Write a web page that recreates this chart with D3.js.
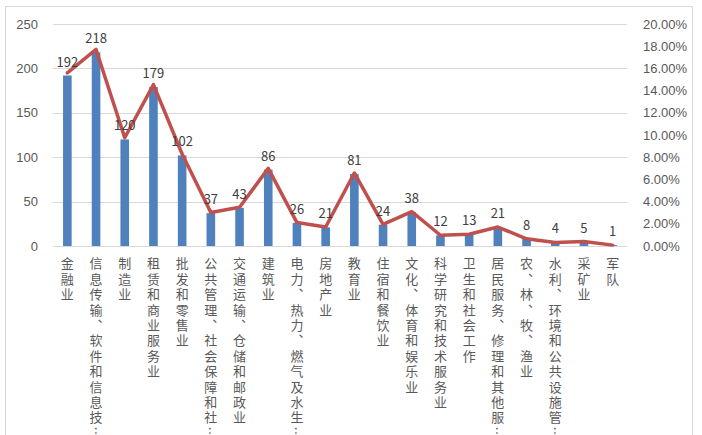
<!DOCTYPE html>
<html>
<head>
<meta charset="utf-8">
<script src="https://cdn.jsdelivr.net/npm/d3@7"></script>
<style>
  html, body { margin: 0; padding: 0; background: #fff; }
  svg { display: block; font-family: "Noto Sans CJK SC", "Noto Sans", sans-serif; }
</style>
</head>
<body>
<div id="chart"></div>
<script>
const categories = [
  "金融业", "信息传输、软件和信息技…", "制造业", "租赁和商业服务业", "批发和零售业",
  "公共管理、社会保障和社…", "交通运输、仓储和邮政业", "建筑业", "电力、热力、燃气及水生…", "房地产业",
  "教育业", "住宿和餐饮业", "文化、体育和娱乐业", "科学研究和技术服务业", "卫生和社会工作",
  "居民服务、修理和其他服…", "农、林、牧、渔业", "水利、环境和公共设施管…", "采矿业", "军队"
];
const counts = [192, 218, 120, 179, 102, 37, 43, 86, 26, 21, 81, 24, 38, 12, 13, 21, 8, 4, 5, 1];
const shares = [15.60, 17.71, 9.75, 14.54, 8.29, 3.01, 3.49, 6.99, 2.11, 1.71,
                6.58, 1.95, 3.09, 0.97, 1.06, 1.71, 0.65, 0.32, 0.41, 0.08];
const leftTicks = [0, 50, 100, 150, 200, 250];
const rightTicks = [0, 2, 4, 6, 8, 10, 12, 14, 16, 18, 20];

(function () {
  const width = 702, height = 435;
  const margin = { top: 24, right: 75, bottom: 189, left: 53 };
  const innerWidth = width - margin.left - margin.right;
  const innerHeight = height - margin.top - margin.bottom;

  const svg = d3.select("#chart")
    .append("svg")
    .attr("width", width)
    .attr("height", height);

  // chart frame
  svg.append("rect")
    .attr("x", 5.5).attr("y", 6.5)
    .attr("width", 687).attr("height", 440)
    .attr("fill", "none")
    .attr("stroke", "#d9d9d9");

  const g = svg.append("g")
    .attr("transform", `translate(${margin.left},${margin.top})`);

  const x = d3.scaleBand()
    .domain(categories)
    .range([0, innerWidth])
    .paddingInner(0.7)
    .paddingOuter(0.35);

  const y = d3.scaleLinear().domain([0, 250]).range([innerHeight, 0]);
  const y2 = d3.scaleLinear().domain([0, 20]).range([innerHeight, 0]);

  // gridlines
  g.append("g")
    .selectAll("line")
    .data(leftTicks.filter(d => d > 0))
    .join("line")
    .attr("x1", 0).attr("x2", innerWidth)
    .attr("y1", d => Math.round(y(d)) + 0.5)
    .attr("y2", d => Math.round(y(d)) + 0.5)
    .attr("stroke", "#d9d9d9");

  // left axis
  const left = g.append("g")
    .call(d3.axisLeft(y).tickValues(leftTicks).tickSize(0).tickPadding(15));
  left.select(".domain").remove();
  left.selectAll("text")
    .attr("fill", "#595959")
    .style("font-size", "13px");

  // right axis
  const right = g.append("g")
    .attr("transform", `translate(${innerWidth},0)`)
    .call(d3.axisRight(y2).tickValues(rightTicks).tickSize(0).tickPadding(16)
      .tickFormat(d => d.toFixed(2) + "%"));
  right.select(".domain").remove();
  right.selectAll("text")
    .attr("fill", "#595959")
    .style("font-size", "13px");

  // bars
  g.selectAll(".bar")
    .data(counts)
    .join("rect")
    .attr("class", "bar")
    .attr("x", (d, i) => x(categories[i]))
    .attr("y", d => y(d))
    .attr("width", x.bandwidth())
    .attr("height", d => innerHeight - y(d))
    .attr("fill", "#4f81bd");

  // baseline
  g.append("line")
    .attr("x1", 0).attr("x2", innerWidth)
    .attr("y1", innerHeight + 0.5).attr("y2", innerHeight + 0.5)
    .attr("stroke", "#d9d9d9");

  // share line
  const line = d3.line()
    .x((d, i) => x(categories[i]) + x.bandwidth() / 2)
    .y(d => y2(d));

  g.append("path")
    .datum(shares)
    .attr("d", line)
    .attr("fill", "none")
    .attr("stroke", "#c0504d")
    .attr("stroke-width", 3.5)
    .attr("stroke-linejoin", "round")
    .attr("stroke-linecap", "round");

  // data labels
  g.selectAll(".bar-label")
    .data(counts)
    .join("text")
    .attr("class", "bar-label")
    .attr("x", (d, i) => x(categories[i]) + x.bandwidth() / 2)
    .attr("y", d => y(d) - 9)
    .attr("text-anchor", "middle")
    .attr("fill", "#404040")
    .style("font-size", "13px")
    .text(d => d);

  // vertical category labels
  g.selectAll(".cat")
    .data(categories)
    .join("text")
    .attr("class", "cat")
    .attr("x", d => x(d) + x.bandwidth() / 2)
    .attr("y", innerHeight + 11)
    .style("writing-mode", "vertical-rl")
    .style("font-size", "13px")
    .style("letter-spacing", "2.4px")
    .attr("fill", "#595959")
    .text(d => d);
})();
</script>
</body>
</html>
